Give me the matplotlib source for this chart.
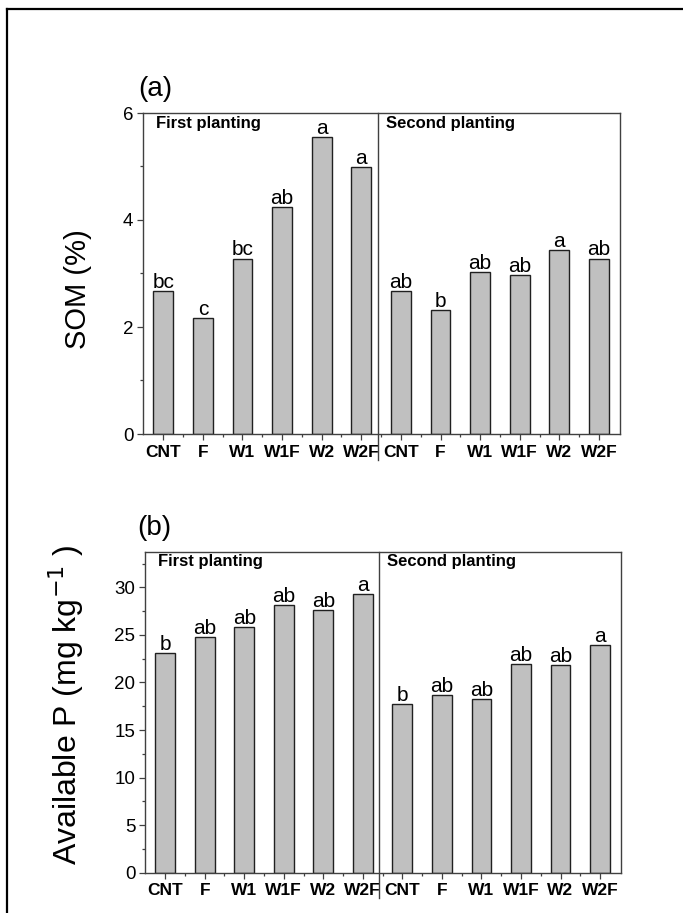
import numpy as np
import matplotlib
matplotlib.use('Agg')
import matplotlib.pyplot as plt
from matplotlib.lines import Line2D

plt.rcParams['font.family'] = ['Liberation Sans', 'DejaVu Sans']

treatments = ['CNT', 'F', 'W1', 'W1F', 'W2', 'W2F']
tick_labels = treatments + treatments

# SOM (%) - first planting then second planting
som_first = [2.67, 2.16, 3.28, 4.25, 5.55, 4.99]
som_second = [2.67, 2.32, 3.02, 2.97, 3.44, 3.28]
som_letters = ['bc', 'c', 'bc', 'ab', 'a', 'a', 'ab', 'b', 'ab', 'ab', 'a', 'ab']

# Available P (mg/kg)
p_first = [23.06, 24.82, 25.80, 28.11, 27.65, 29.30]
p_second = [17.70, 18.65, 18.30, 21.91, 21.80, 23.97]
p_letters = ['b', 'ab', 'ab', 'ab', 'ab', 'a', 'b', 'ab', 'ab', 'ab', 'ab', 'a']

W, H = 683, 913
fig = plt.figure(figsize=(W / 100, H / 100), dpi=100)

# outer frame (left + top only visible)
fig.add_artist(Line2D([7 / W, 7 / W], [0, 1 - 9 / H], color='black', lw=1.6, transform=fig.transFigure))
fig.add_artist(Line2D([7 / W, 1], [1 - 9 / H, 1 - 9 / H], color='black', lw=1.6, transform=fig.transFigure))

spine_col = '#404040'


def panel(rect, vals, letters, ylim, major, minor, ylabel, ylab_xy, tag, tag_xy, lab_size):
    ax = fig.add_axes(rect)
    x = np.arange(1, len(vals) + 1)
    ax.bar(x, vals, width=0.5, color='#c0c0c0', edgecolor='#202020', linewidth=1.0, zorder=2)
    for xi, v, t in zip(x, vals, letters):
        ax.annotate(t, (xi, v), xytext=(0, 2.2), textcoords='offset points',
                    ha='center', va='baseline', fontsize=15)
    ax.set_xlim(0.49, 12.53)
    ax.set_ylim(*ylim)
    ax.set_xticks(x)
    ax.set_xticklabels(tick_labels, fontweight='bold', fontsize=12.5)
    ax.set_xticks(np.arange(1.5, 12.5, 1), minor=True)
    ax.set_yticks(major)
    ax.set_yticks(minor, minor=True)
    ax.tick_params(axis='both', which='major', direction='out', length=4.5, width=0.9,
                   color=spine_col, labelsize=13.5)
    ax.tick_params(axis='x', which='major', pad=3.2, labelsize=12.5)
    ax.tick_params(axis='y', which='major', pad=2.5)
    ax.tick_params(axis='both', which='minor', direction='out', length=2.5, width=0.9, color=spine_col)
    for s in ax.spines.values():
        s.set_color(spine_col)
        s.set_linewidth(1.0)
    # divider between plantings
    ax.axvline(6.42, ymin=-0.08, ymax=1, color=spine_col, lw=1.0, clip_on=False)
    ax.text(0.027, 0.954, 'First planting', transform=ax.transAxes, fontsize=12,
            fontweight='bold', va='baseline')
    ax.text(0.509, 0.954, 'Second planting', transform=ax.transAxes, fontsize=12,
            fontweight='bold', va='baseline')
    fig.text(ylab_xy[0] / W, 1 - ylab_xy[1] / H, ylabel, rotation=90, ha='center', va='center',
             fontsize=lab_size)
    fig.text(tag_xy[0] / W, 1 - tag_xy[1] / H, tag, ha='left', va='bottom', fontsize=20)
    return ax


panel([143 / W, 1 - 434 / H, 477 / W, 321 / H], som_first + som_second, som_letters,
      (0, 6), [0, 2, 4, 6], [1, 3, 5], 'SOM (%)', (78, 289), '(a)', (138, 102), 21)

panel([145 / W, 1 - 872.7 / H, 476 / W, 321 / H], p_first + p_second, p_letters,
      (0, 33.75), [0, 5, 10, 15, 20, 25, 30], [2.5, 7.5, 12.5, 17.5, 22.5, 27.5, 32.5],
      'Available P (mg kg$^{-1}$ )', (66, 705), '(b)', (137, 541), 23)

fig.savefig('out.png', dpi=100)
